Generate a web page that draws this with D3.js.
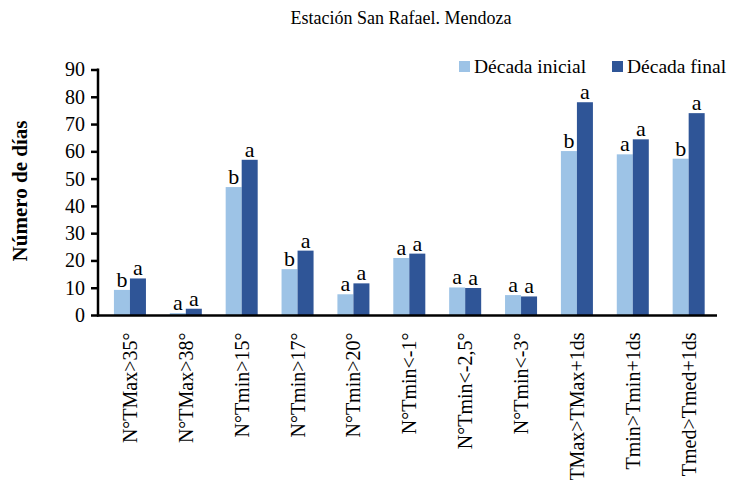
<!DOCTYPE html>
<html>
<head>
<meta charset="utf-8">
<script src="https://cdn.jsdelivr.net/npm/d3@7"></script>
<style>
  html, body { margin: 0; padding: 0; background: #fff; }
  svg { display: block; font-family: "Liberation Serif", "Times New Roman", serif; }
</style>
</head>
<body>
<svg id="chart" width="730" height="480"></svg>
<script>
const categories = ["N°TMax>35°", "N°TMax>38°", "N°Tmin>15°", "N°Tmin>17°", "N°Tmin>20°",
  "N°Tmin<-1°", "N°Tmin<-2,5°", "N°Tmin<-3°", "TMax>TMax+1ds", "Tmin>Tmin+1ds", "Tmed>Tmed+1ds"];
const seriesNames = ["Década inicial", "Década final"];
const inicial = [9.2, 0.7, 46.9, 16.8, 7.6, 20.9, 10.1, 7.3, 60.1, 58.9, 57.3];
const final = [13.4, 2.3, 56.9, 23.6, 11.6, 22.5, 9.9, 6.8, 78.0, 64.4, 74.0];
const letrasInicial = ["b", "a", "b", "b", "a", "a", "a", "a", "b", "a", "b"];
const letrasFinal = ["a", "a", "a", "a", "a", "a", "a", "a", "a", "a", "a"];
const yTicks = [0, 10, 20, 30, 40, 50, 60, 70, 80, 90];
const title = "Estación San Rafael. Mendoza";
const yTitle = "Número de días";
const colors = ["#9DC3E6", "#2F5597"];

const svg = d3.select("#chart");

const x = d3.scaleBand().domain(categories).range([102, 716.6]).paddingInner(0).paddingOuter(0);
const groupW = x.bandwidth() * 0.573;
const xs = d3.scaleBand().domain([0, 1]).range([0, groupW]);
const y = d3.scaleLinear().domain([0, 90]).range([315, 69.5]);

// title
svg.append("text").attr("x", 401).attr("y", 24).attr("text-anchor", "middle")
  .style("font-size", "18px").attr("fill", "#000").text(title);

// bars
const data = categories.map((c, i) => ({ c, vals: [inicial[i], final[i]], letters: [letrasInicial[i], letrasFinal[i]] }));
const g = svg.append("g");
const groups = g.selectAll("g.cat").data(data).join("g")
  .attr("transform", d => `translate(${x(d.c) + (x.bandwidth() - groupW) / 2},0)`);
groups.selectAll("rect").data(d => d.vals.map((v, k) => ({ v, k }))).join("rect")
  .attr("x", d => xs(d.k)).attr("width", xs.bandwidth())
  .attr("y", d => y(d.v)).attr("height", d => y(0) - y(d.v))
  .attr("fill", d => colors[d.k]);
groups.selectAll("text").data(d => d.vals.map((v, k) => ({ v, k, l: d.letters[k] }))).join("text")
  .attr("x", d => xs(d.k) + xs.bandwidth() / 2).attr("y", d => y(d.v) - 3)
  .attr("text-anchor", "middle").style("font-size", "22px").attr("fill", "#000")
  .text(d => d.l);

// y axis
const yAxis = d3.axisLeft(y).tickValues(yTicks).tickSize(7).tickPadding(6).tickFormat(d3.format("d"));
const ya = svg.append("g").attr("transform", "translate(98,0)").call(yAxis);
ya.select(".domain").remove();
ya.selectAll(".tick line").attr("stroke", "#000").attr("stroke-width", 2.5);
ya.selectAll(".tick text").style("font-size", "20px").style("font-family", "Liberation Serif").attr("fill", "#000");
svg.append("line").attr("x1", 98).attr("x2", 98).attr("y1", y(90) - 1).attr("y2", y(0) + 1.5)
  .attr("stroke", "#000").attr("stroke-width", 2.5);

// x axis
const xAxis = d3.axisBottom(x).tickSize(0).tickPadding(0);
const xa = svg.append("g").attr("transform", "translate(0,315.5)").call(xAxis);
xa.select(".domain").remove();
xa.selectAll(".tick text")
  .attr("transform", "translate(0,17) rotate(-90)")
  .attr("text-anchor", "end").attr("x", 0).attr("y", 0).attr("dy", "0.35em")
  .style("font-size", "20px").style("font-family", "Liberation Serif").attr("fill", "#000");
svg.append("line").attr("x1", 97).attr("x2", 717).attr("y1", 315.5).attr("y2", 315.5)
  .attr("stroke", "#000").attr("stroke-width", 2.5);

// y title
svg.append("text").attr("transform", "translate(27,191) rotate(-90)")
  .attr("text-anchor", "middle").style("font-size", "21px").style("font-weight", "bold")
  .attr("fill", "#000").text(yTitle);

// legend
const legendX = [459, 612];
const leg = svg.append("g").selectAll("g").data(seriesNames).join("g")
  .attr("transform", (d, i) => `translate(${legendX[i]},61)`);
leg.append("rect").attr("width", 11).attr("height", 11).attr("fill", (d, i) => colors[i]);
leg.append("text").attr("x", 15).attr("y", 11.5).style("font-size", "19.5px").attr("fill", "#000").text(d => d);
</script>
</body>
</html>
